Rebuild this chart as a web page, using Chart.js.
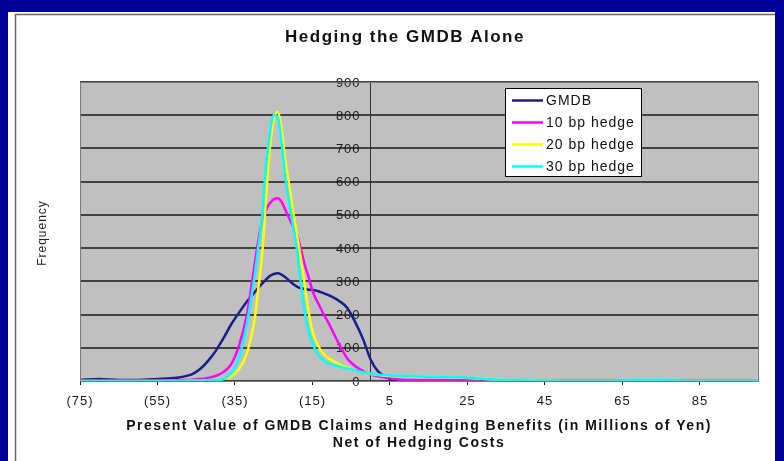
<!DOCTYPE html>
<html><head><meta charset="utf-8">
<script src="https://cdn.jsdelivr.net/npm/chart.js@4.4.0/dist/chart.umd.min.js"></script>
<style>html,body{margin:0;padding:0;background:#000099;}canvas{display:block;}</style>
</head><body>
<canvas id="c" width="784" height="461"></canvas>
<script>
const chartTitle = 'Hedging the GMDB Alone';
const xTitleLines = ['Present Value of GMDB Claims and Hedging Benefits (in Millions of Yen)', 'Net of Hedging Costs'];
const yTitle = 'Frequency';
const seriesNames = ['GMDB', '10 bp hedge', '20 bp hedge', '30 bp hedge'];
const seriesColors = ['#1c1c8a', '#ff00ff', '#ffff00', '#00ffff'];

const xValues = [-75,-70,-65,-60,-55,-50,-48,-46,-44,-42,-40,-38,-36,-34,-32,-31,-30,-29,-28,-27,-26,-25,-24,-23,-22,-21,-20,-19,-18,-17,-16,-15,-14,-13,-12,-11,-10,-8,-6,-4,-2,0,2,4,6,8,10,15,20,25,30,35,40,45,50,60,70,75,80,90,100];
const gmdb    = [3,6,3,3,6,10,14,21,36,60,90,128,170,205,238,252,266,280,293,305,316,322,324,320,312,302,292,284,279,277,275,274,272,268,264,259,254,240,220,178,128,65,28,12,2,1,1,0,0,0,0,0,0,0,0,0,0,0,0,0,0];
const hedge10 = [0,0,0,0,1,2,3,4,6,9,15,27,50,105,195,265,345,420,480,515,535,547,550,540,515,490,465,440,398,350,313,272,245,222,198,178,155,108,68,45,30,20,14,10,6,4,3,3,3,2,1,0,0,0,0,0,0,0,0,0,0];
const hedge20 = [0,0,0,0,0,0,0,1,1,2,4,7,14,35,80,125,180,275,380,545,700,785,810,760,664,590,510,440,370,290,210,150,118,95,80,70,62,50,40,32,26,21,18,16,15,14,13,12,11,9,6,3,2,1,0,0,0,0,0,0,0];
const hedge30 = [0,0,0,0,0,0,0,1,1,2,3,6,24,68,168,235,310,400,495,645,745,800,795,720,610,540,465,395,295,210,150,115,87,72,62,53,50,43,38,32,26,22,19,17,16,15,14,13,12,10,6,3,2,1,0,0,3,3,1,0,0];
const xTickValues = [-75,-55,-35,-15,5,25,45,65,85];
const yTickValues = [0,100,200,300,400,500,600,700,800,900];

const seriesValues = [gmdb, hedge10, hedge20, hedge30];
const FONT = "'Liberation Sans', Arial, sans-serif";

const framePlugin = {
  id: 'frame',
  beforeDraw(chart) {
    const ctx = chart.ctx;
    const a = chart.chartArea;
    ctx.save();
    ctx.fillStyle = '#000099';
    ctx.fillRect(0, 0, chart.width, chart.height);
    ctx.fillStyle = '#ffffff';
    ctx.fillRect(8, 12, 767, chart.height - 12);
    ctx.strokeStyle = '#666666';
    ctx.lineWidth = 1.5;
    ctx.beginPath();
    ctx.moveTo(15.5, chart.height);
    ctx.lineTo(15.5, 14.5);
    ctx.lineTo(775, 14.5);
    ctx.stroke();
    ctx.fillStyle = '#c0c0c0';
    ctx.fillRect(a.left, a.top, a.right - a.left, a.bottom - a.top);
    ctx.restore();
    ctx.letterSpacing = '1px';
  },
  beforeDatasetsDraw(chart) {
    const ctx = chart.ctx;
    const ys = chart.scales.y, xs = chart.scales.x;
    const ax = xs.getPixelForValue(0);
    ctx.save();
    ctx.letterSpacing = '1px';
    ctx.font = '13px ' + FONT;
    ctx.fillStyle = '#1a1a1a';
    ctx.textAlign = 'right';
    ctx.textBaseline = 'middle';
    yTickValues.forEach(v => {
      ctx.fillText(String(v), ax - 10, ys.getPixelForValue(v) + 1);
    });
    ctx.restore();
  },
  afterDraw(chart) {
    const ctx = chart.ctx;
    const a = chart.chartArea;
    ctx.save();
    ctx.strokeStyle = '#7a7a7a';
    ctx.lineWidth = 1;
    ctx.strokeRect(a.left + 0.5, a.top + 0.5, a.right - a.left, a.bottom - a.top);
    // title
    ctx.fillStyle = '#111';
    ctx.textAlign = 'center';
    ctx.textBaseline = 'middle';
    ctx.letterSpacing = '1.5px';
    ctx.font = 'bold 17px ' + FONT;
    ctx.fillText(chartTitle, 405, 37);
    // x title
    ctx.letterSpacing = '1.5px';
    ctx.font = 'bold 14px ' + FONT;
    ctx.fillText(xTitleLines[0], (a.left + a.right) / 2, 426);
    ctx.fillText(xTitleLines[1], (a.left + a.right) / 2, 443);
    // y title
    ctx.save();
    ctx.letterSpacing = '1px';
    ctx.translate(43, 233);
    ctx.rotate(-Math.PI / 2);
    ctx.font = '12px ' + FONT;
    ctx.fillStyle = '#222';
    ctx.fillText(yTitle, 0, 0);
    ctx.restore();
    // legend
    const bx = 505.5, by = 88.5, bw = 136, bh = 88;
    ctx.fillStyle = '#ffffff';
    ctx.fillRect(bx, by, bw, bh);
    ctx.strokeStyle = '#000';
    ctx.lineWidth = 1;
    ctx.strokeRect(bx, by, bw, bh);
    ctx.textAlign = 'left';
    ctx.letterSpacing = '1px';
    ctx.font = '14px ' + FONT;
    chart.data.datasets.forEach((ds, i) => {
      const y = 100.5 + i * 22;
      ctx.strokeStyle = ds.borderColor;
      ctx.lineWidth = 2.5;
      ctx.beginPath();
      ctx.moveTo(512, y);
      ctx.lineTo(543, y);
      ctx.stroke();
      ctx.fillStyle = '#111';
      ctx.fillText(ds.label, 546, y + 1);
    });
    ctx.restore();
  }
};

const datasets = seriesNames.map((name, i) => ({
  label: name,
  data: xValues.map((x, j) => ({x: x, y: seriesValues[i][j]})),
  borderColor: seriesColors[i],
  backgroundColor: seriesColors[i],
  borderWidth: 2.5,
  pointRadius: 0,
  fill: false,
  cubicInterpolationMode: 'monotone',
  order: 3 - i
}));

new Chart(document.getElementById('c'), {
  type: 'line',
  data: {datasets: datasets},
  plugins: [framePlugin],
  options: {
    responsive: false,
    animation: false,
    devicePixelRatio: 1,
    layout: {padding: {left: 80, top: 82, right: 26, bottom: 0}},
    plugins: {legend: {display: false}, title: {display: false}, tooltip: {enabled: false}},
    scales: {
      x: {
        type: 'linear', min: -75, max: 100, position: 'bottom',
        afterBuildTicks: s => { s.ticks = xTickValues.map(v => ({value: v})); },
        afterFit: s => { s.height = 80; },
        grid: {display: true, drawOnChartArea: false, drawTicks: true, tickLength: 4, color: '#222', lineWidth: 1},
        border: {display: true, color: '#333', width: 1},
        ticks: {padding: 9, color: '#1a1a1a', font: {family: FONT, size: 13}, maxRotation: 0, autoSkip: false,
          callback: v => v < 0 ? '(' + (-v) + ')' : String(v)}
      },
      y: {
        type: 'linear', min: 0, max: 900, position: {x: 0},
        afterBuildTicks: s => { s.ticks = yTickValues.map(v => ({value: v})); },
        ticks: {display: false},
        grid: {color: '#424242', lineWidth: 2, drawTicks: true, tickLength: 4},
        border: {display: true, color: '#333', width: 1}
      }
    }
  }
});
</script>
</body></html>
